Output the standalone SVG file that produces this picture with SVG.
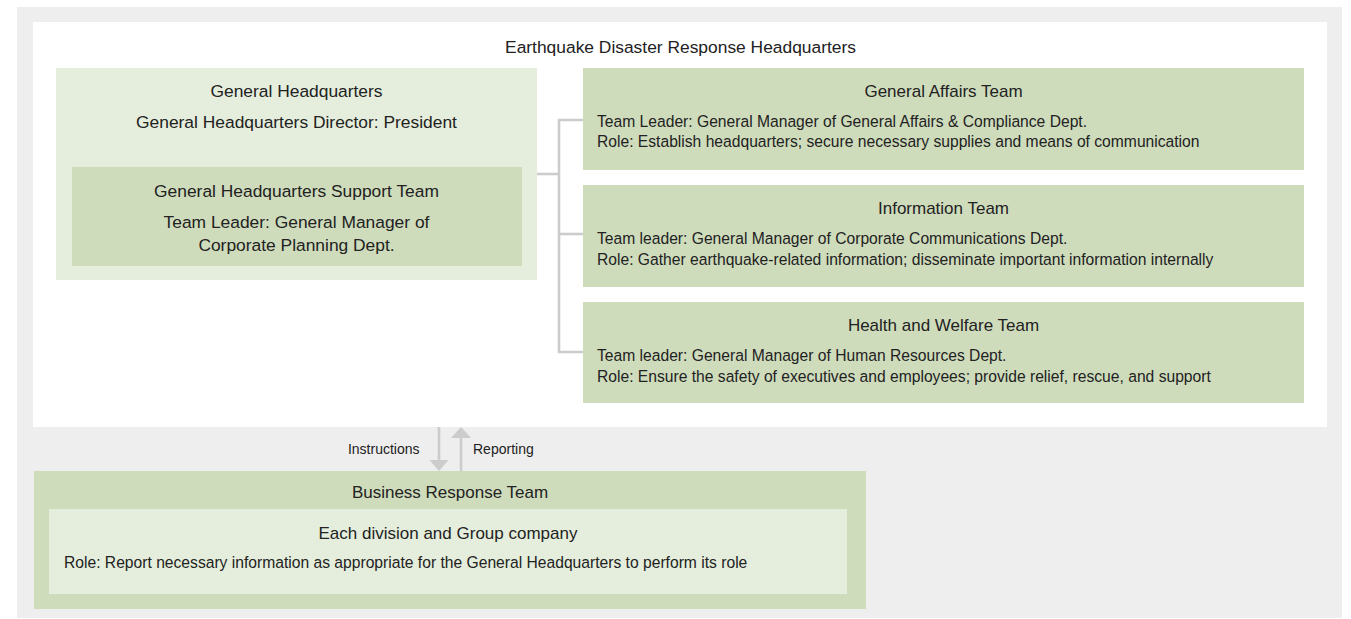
<svg xmlns="http://www.w3.org/2000/svg" width="1351" height="619" viewBox="0 0 1351 619">
<defs>
<style>
text{font-family:"Liberation Sans",Arial,Helvetica,sans-serif;fill:#222;}
.h{font-size:17px;text-anchor:middle;}
.hl{font-size:17.4px;text-anchor:middle;}
.b{font-size:15.65px;}
.s{font-size:14px;}
.lt{fill:#e5eedc;}
.dk{fill:#cfdcbc;}
.ln{stroke:#cccccc;stroke-width:2.6;fill:none;}
.ah{fill:#cccccc;}
</style>
</defs>
<rect x="17" y="7" width="1325" height="611" fill="#eeeeee"/>
<rect x="33" y="22" width="1294" height="405" fill="#ffffff"/>
<g id="hq">
<text class="hl" x="680.5" y="53">Earthquake Disaster Response Headquarters</text>
</g>
<g id="connectors">
<polyline class="ln" points="537,174 559,174"/>
<polyline class="ln" points="583,120 559,120 559,352 583,352"/>
<polyline class="ln" points="559,234 583,234"/>
<line class="ln" x1="439" y1="427" x2="439" y2="460"/>
<path class="ah" d="M429.5,460 L448.5,460 L439,471 Z"/>
<line class="ln" x1="461" y1="438" x2="461" y2="471"/>
<path class="ah" d="M451,438 L471,438 L461,427 Z"/>
<text class="s" x="419.5" y="454" text-anchor="end">Instructions</text>
<text class="s" x="473" y="454">Reporting</text>
</g>
<g id="general-hq">
<rect class="lt" x="56" y="68" width="481" height="212"/>
<text class="hl" x="296.5" y="97">General Headquarters</text>
<text class="hl" x="296.5" y="127.5">General Headquarters Director: President</text>
</g>
<g id="support-team">
<rect class="dk" x="72" y="167" width="450" height="99"/>
<text class="hl" x="296.5" y="197">General Headquarters Support Team</text>
<text class="hl" x="296.5" y="227.5">Team Leader: General Manager of</text>
<text class="hl" x="296.5" y="250.5">Corporate Planning Dept.</text>
</g>
<g id="general-affairs">
<rect class="dk" x="583" y="68" width="721" height="102"/>
<text class="h" x="943.5" y="97">General Affairs Team</text>
<text class="b" x="597" y="126.5">Team Leader: General Manager of General Affairs &amp; Compliance Dept.</text>
<text class="b" x="597" y="147">Role: Establish headquarters; secure necessary supplies and means of communication</text>
</g>
<g id="information">
<rect class="dk" x="583" y="185" width="721" height="102"/>
<text class="h" x="943.5" y="214">Information Team</text>
<text class="b" x="597" y="243.5">Team leader: General Manager of Corporate Communications Dept.</text>
<text class="b" x="597" y="264.5">Role: Gather earthquake-related information; disseminate important information internally</text>
</g>
<g id="health-welfare">
<rect class="dk" x="583" y="302" width="721" height="101"/>
<text class="h" x="943.5" y="331">Health and Welfare Team</text>
<text class="b" x="597" y="360.5">Team leader: General Manager of Human Resources Dept.</text>
<text class="b" x="597" y="381.5">Role: Ensure the safety of executives and employees; provide relief, rescue, and support</text>
</g>
<g id="business-response">
<rect class="dk" x="34" y="471" width="832" height="138"/>
<text class="h" x="450" y="498">Business Response Team</text>
</g>
<g id="divisions">
<rect class="lt" x="49" y="509" width="798" height="85"/>
<text class="h" x="448" y="539">Each division and Group company</text>
<text class="b" x="64" y="568">Role: Report necessary information as appropriate for the General Headquarters to perform its role</text>
</g>
</svg>
